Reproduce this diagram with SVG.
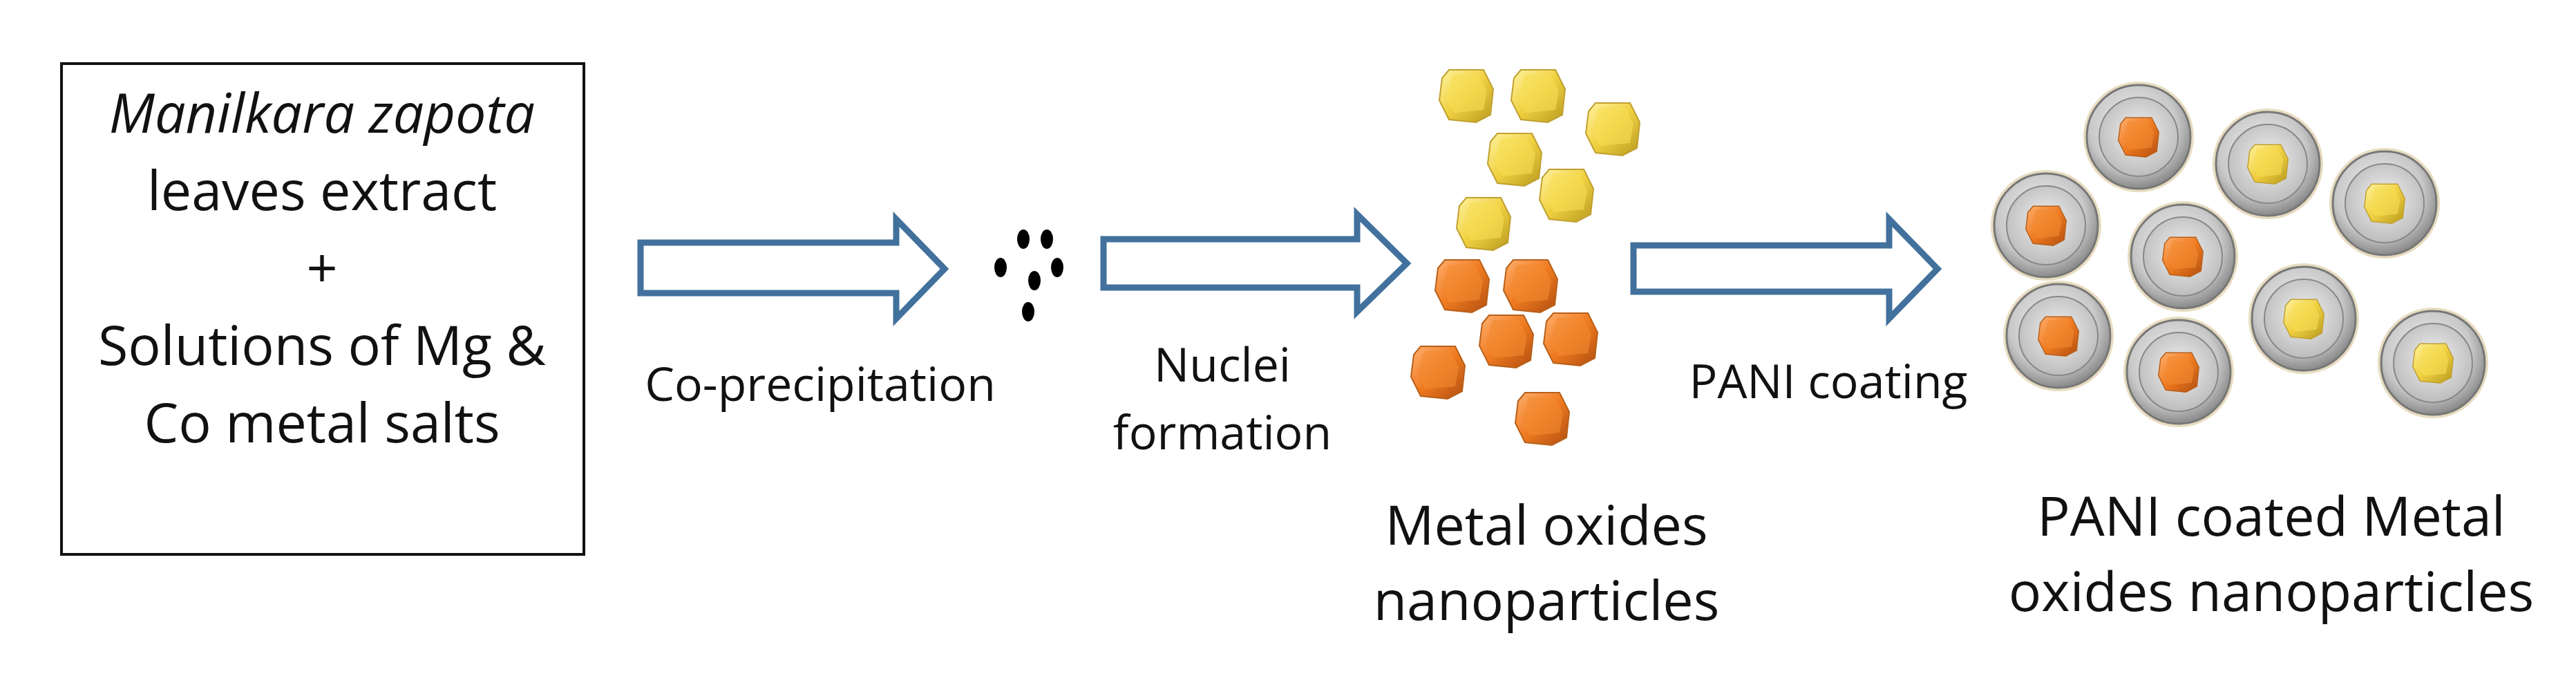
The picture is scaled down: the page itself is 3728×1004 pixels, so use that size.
<svg xmlns="http://www.w3.org/2000/svg" width="3728" height="1004" viewBox="0 0 3728 1004">
<style>
text{font-family:"Open Sans","Liberation Sans",sans-serif;fill:#111;text-anchor:middle}
.big{font-size:79px}
.sm{font-size:68px}
.arrow{fill:#fff;stroke:#41719c;stroke-width:9;stroke-linejoin:miter}
</style>
<defs>
<linearGradient id="yel" x1="0" y1="0" x2="1" y2="1"><stop offset="0" stop-color="#fff3a0"/><stop offset="0.5" stop-color="#f0d040"/><stop offset="1" stop-color="#b89a20"/></linearGradient>
<linearGradient id="ora" x1="0" y1="0" x2="1" y2="1"><stop offset="0" stop-color="#ffb070"/><stop offset="0.5" stop-color="#ef7a20"/><stop offset="1" stop-color="#b04e10"/></linearGradient>
<radialGradient id="ring" cx="0.45" cy="0.4" r="0.6"><stop offset="0" stop-color="#f4f4f4"/><stop offset="0.7" stop-color="#c8c8c8"/><stop offset="1" stop-color="#8a8a8a"/></radialGradient>
<radialGradient id="inner" cx="0.5" cy="0.45" r="0.6"><stop offset="0" stop-color="#f0f0f0"/><stop offset="1" stop-color="#b8b8b8"/></radialGradient>
<g id="cy"><polygon points="-25,-37 25,-37 39,-9 35,28 14,39 -25,35 -39,7 -35,-25" fill="url(#yel)" stroke="#c0a030" stroke-width="2"/><polygon points="-20,-30 18,-30 30,-7 25,21 -18,25 -30,5" fill="#f7dd55" opacity="0.6"/></g>
<g id="co"><polygon points="-25,-37 25,-37 39,-9 35,28 14,39 -25,35 -39,7 -35,-25" fill="url(#ora)" stroke="#b8601a" stroke-width="2"/><polygon points="-20,-30 18,-30 30,-7 25,21 -18,25 -30,5" fill="#f28a30" opacity="0.6"/></g>
<g id="ringbase"><circle r="80" fill="#e8dcc0"/><circle r="75" fill="url(#ring)" stroke="#777" stroke-width="3"/><circle r="57" fill="url(#inner)" stroke="#888" stroke-width="2"/></g>
</defs>
<rect width="3728" height="1004" fill="#fff"/>
<g id="source">
<rect x="89" y="92" width="756" height="710" fill="#fff" stroke="#111" stroke-width="4"/>
<text class="big" x="466" y="192" font-style="italic">Manilkara zapota</text>
<text class="big" x="466" y="304">leaves extract</text>
<text class="big" x="466" y="416">+</text>
<text class="big" x="466" y="528">Solutions of Mg &amp;</text>
<text class="big" x="466" y="640">Co metal salts</text>
</g>
<g id="connectors">
<polygon class="arrow" points="927,351 1297,351 1297,317 1367,389 1297,461 1297,424 927,424"/>
<polygon class="arrow" points="1597,346 1964,346 1964,310 2036,381 1964,451 1964,416 1597,416"/>
<polygon class="arrow" points="2364,355 2734,355 2734,317 2804,389 2734,461 2734,422 2364,422"/>
<text class="sm" x="1187" y="580">Co-precipitation</text>
<text class="sm" x="1769" y="552">Nuclei</text>
<text class="sm" x="1769" y="650">formation</text>
<text class="sm" x="2646" y="576">PANI coating</text>
</g>
<g id="nuclei" fill="#000">
<ellipse cx="1481" cy="346" rx="9" ry="14"/><ellipse cx="1515" cy="346" rx="9" ry="14"/>
<ellipse cx="1448" cy="387" rx="9" ry="14"/><ellipse cx="1530" cy="387" rx="9" ry="14"/>
<ellipse cx="1497" cy="406" rx="9" ry="14"/><ellipse cx="1488" cy="451" rx="9" ry="14"/>
</g>
<g id="metal-oxides">
<use href="#cy" x="2122" y="138"/><use href="#cy" x="2226" y="138"/><use href="#cy" x="2334" y="186"/>
<use href="#cy" x="2192" y="230"/><use href="#cy" x="2267" y="282"/><use href="#cy" x="2147" y="323"/>
<use href="#co" x="2116" y="413"/><use href="#co" x="2215" y="413"/><use href="#co" x="2180" y="493"/>
<use href="#co" x="2273" y="490"/><use href="#co" x="2081" y="538"/><use href="#co" x="2232" y="605"/>
<text class="big" x="2238" y="788">Metal oxides</text>
<text class="big" x="2238" y="897">nanoparticles</text>
</g>
<g id="coated">
<g transform="translate(3095,198)"><use href="#ringbase"/><use href="#co" transform="scale(0.75)"/></g>
<g transform="translate(3282,237)"><use href="#ringbase"/><use href="#cy" transform="scale(0.75)"/></g>
<g transform="translate(3451,294)"><use href="#ringbase"/><use href="#cy" transform="scale(0.75)"/></g>
<g transform="translate(2961,326)"><use href="#ringbase"/><use href="#co" transform="scale(0.75)"/></g>
<g transform="translate(3159,371)"><use href="#ringbase"/><use href="#co" transform="scale(0.75)"/></g>
<g transform="translate(3334,461)"><use href="#ringbase"/><use href="#cy" transform="scale(0.75)"/></g>
<g transform="translate(2979,486)"><use href="#ringbase"/><use href="#co" transform="scale(0.75)"/></g>
<g transform="translate(3153,538)"><use href="#ringbase"/><use href="#co" transform="scale(0.75)"/></g>
<g transform="translate(3521,525)"><use href="#ringbase"/><use href="#cy" transform="scale(0.75)"/></g>
<text class="big" x="3287" y="775">PANI coated Metal</text>
<text class="big" x="3287" y="884">oxides nanoparticles</text>
</g>
</svg>
